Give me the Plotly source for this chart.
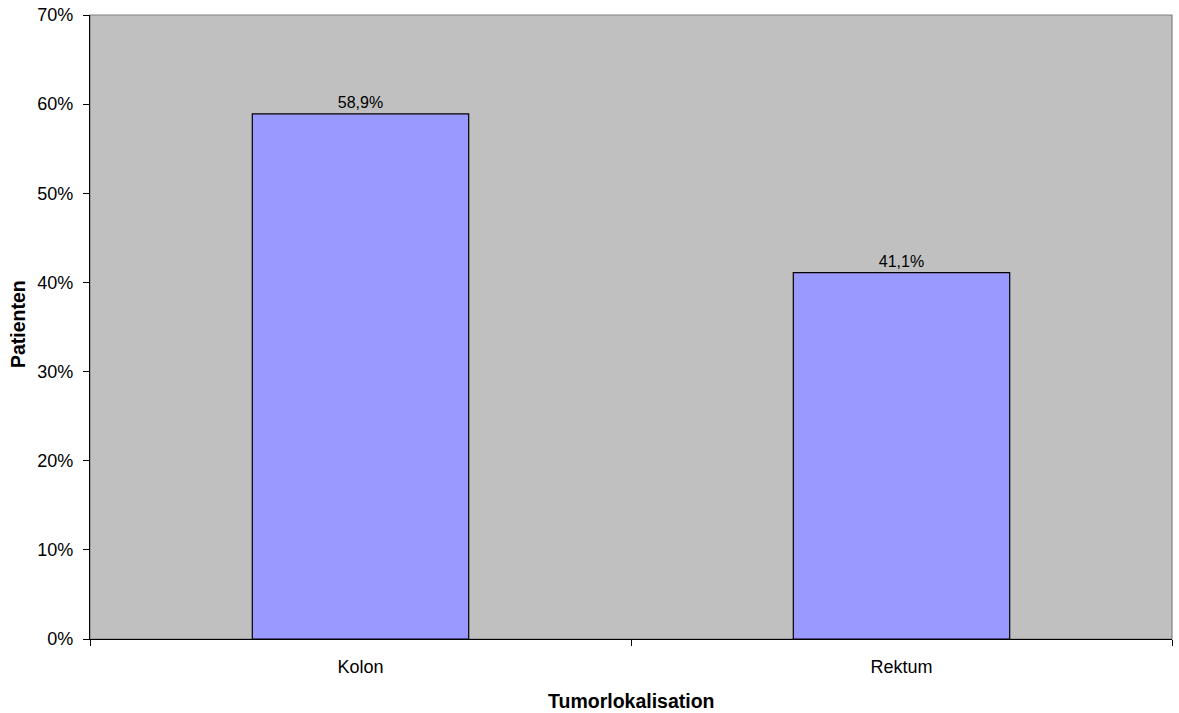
import plotly.graph_objects as go

categories = ["Kolon", "Rektum"]
values = [0.589, 0.411]
y_ticks = [0, 0.1, 0.2, 0.3, 0.4, 0.5, 0.6, 0.7]

font = "Liberation Sans, Arial, sans-serif"

fig = go.Figure()
fig.add_trace(go.Bar(
    x=categories, y=values, width=0.4,
    marker=dict(color="#9999FF", line=dict(color="black", width=1.2)),
    texttemplate="%{y:.1%}", textposition="outside",
    textfont=dict(family=font, size=16, color="black"),
    cliponaxis=False, hoverinfo="skip",
))

fig.update_layout(
    width=1179, height=713,
    margin=dict(l=90, r=7, t=15, b=74),
    paper_bgcolor="white", plot_bgcolor="#C0C0C0",
    separators=",.",
    showlegend=False,
    font=dict(family=font, size=18, color="black"),
    shapes=[dict(type="rect", xref="paper", yref="paper", x0=0, x1=1, y0=0, y1=1,
                 line=dict(color="#808080", width=1.2), layer="below")],
    annotations=[
        dict(text="<b>Tumorlokalisation</b>", xref="paper", yref="paper", x=0.5, y=0,
             xanchor="center", yanchor="middle", yshift=-62, showarrow=False,
             font=dict(size=19.5)),
        dict(text="<b>Patienten</b>", xref="paper", yref="paper", x=0, y=0.5,
             xanchor="center", yanchor="middle", xshift=-72, yshift=3, textangle=-90,
             showarrow=False, font=dict(size=19.5)),
    ],
)
fig.update_xaxes(
    range=[-0.5, 1.5], showgrid=False, showline=True, linecolor="black", linewidth=1.2,
    ticks="outside", tickson="boundaries", ticklen=6, tickcolor="black", tickwidth=1,
    tickfont=dict(size=18), ticklabelstandoff=11, automargin=False,
)
fig.update_yaxes(
    range=[0, 0.7], tickvals=y_ticks, tickformat=".0%", showgrid=False,
    showline=True, linecolor="black", linewidth=1.2, zeroline=False,
    ticks="outside", ticklen=6, tickcolor="black", tickwidth=1,
    tickfont=dict(size=18), ticklabelstandoff=6, automargin=False,
)

fig.write_html("out.html", config={"displayModeBar": False},
               post_script="document.body.style.margin='0';")
